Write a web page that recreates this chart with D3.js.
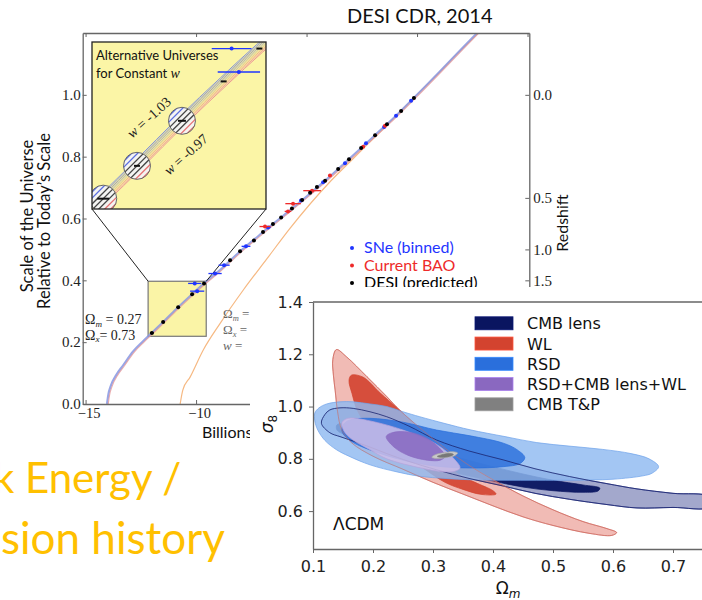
<!DOCTYPE html>
<html>
<head>
<meta charset="utf-8">
<script src="https://cdn.jsdelivr.net/npm/d3@7"></script>
<style>
  body { margin: 0; background: #fff; }
  svg { display: block; }
</style>
</head>
<body>
<svg width="702" height="600"></svg>
<script>
// ---------- back chart data: scale factor a vs time (Gyr from today) ----------
var ageTicks = [-15, -10, -5, 0, 5];
var scaleTicks = [0.0, 0.2, 0.4, 0.6, 0.8, 1.0];
var redshiftTicks = [0.0, 0.5, 1.0, 1.5];

// LCDM (Om = 0.27, Ox = 0.73)
var mainCurve = [
  [-14.03, 0], [-13.97, 0.03], [-13.85, 0.06], [-13.6, 0.095], [-13.3, 0.125],
  [-12.85, 0.17], [-12.4, 0.203], [-12.0, 0.23], [-11.49, 0.265], [-10.81, 0.313],
  [-10.18, 0.355], [-9.64, 0.39], [-9.0, 0.428], [-8.0, 0.494], [-7.0, 0.554],
  [-6.0, 0.612], [-5.0, 0.671], [-4.0, 0.732], [-3.0, 0.797], [-2.0, 0.863],
  [-1.0, 0.929], [0, 1.0], [1.0, 1.073], [2.0, 1.147], [2.72, 1.2]
];
// alternative universe (orange)
var altCurve = [
  [-10.72, 0], [-10.6, 0.045], [-10.27, 0.087], [-9.68, 0.174], [-8.91, 0.261],
  [-7.87, 0.368], [-6.79, 0.47], [-5.75, 0.568], [-4.0, 0.714],
  [-3.0, 0.786], [-2.0, 0.857], [-1.0, 0.928], [0, 1.0], [1.0, 1.072],
  [2.0, 1.146], [2.77, 1.2]
];
// [t, a, half-width of error in t]
var desiPoints = [
  [-12.0, 0.23, 0.09], [-11.49, 0.265, 0.045], [-10.81, 0.313, 0.06], [-10.18, 0.355, 0.045],
  [-9.64, 0.39, 0.045], [-8.46, 0.465, 0.04], [-8.01, 0.494, 0.04], [-7.38, 0.529, 0.04],
  [-6.97, 0.556, 0.04], [-6.52, 0.582, 0.04], [-6.15, 0.603, 0.04], [-5.66, 0.632, 0.04],
  [-5.2, 0.66, 0.04], [-4.84, 0.683, 0.04], [-4.53, 0.702, 0.04], [-4.16, 0.722, 0.04],
  [-3.57, 0.76, 0.04], [-3.08, 0.792, 0.04], [-2.53, 0.828, 0.04], [-1.9, 0.869, 0.04],
  [-1.36, 0.905, 0.04], [-0.72, 0.948, 0.04], [-0.14, 0.99, 0.04]
];
var snePoints = [
  [-10.06, 0.39, 0.3], [-9.95, 0.365, 0.32], [-9.14, 0.422, 0.3], [-8.73, 0.449, 0.25],
  [-7.74, 0.51, 0.2], [-6.74, 0.571, 0.12], [-5.25, 0.658, 0.08], [-4.25, 0.717, 0.06],
  [-3.26, 0.779, 0.05], [-2.31, 0.843, 0.05], [-1.49, 0.896, 0.04], [-0.95, 0.932, 0.04],
  [-0.27, 0.981, 0.04]
];
var baoPoints = [
  [-6.88, 0.574, 0.25], [-5.84, 0.623, 0.15], [-5.61, 0.648, 0.35], [-4.75, 0.69, 0.4],
  [-3.94, 0.739, 0.08], [-2.44, 0.832, 0.06], [-1.45, 0.9, 0.05]
];
var circledDesi = [0, 1, 2];
var zoomT = [-12.17, -9.54];
var zoomA = [0.219, 0.397];
var pointLegend = ["SNe (binned)", "Current BAO", "DESI (predicted)"];

// ---------- front chart data: sigma8 vs Omega_m contours ----------
var omTicks = [0.1, 0.2, 0.3, 0.4, 0.5, 0.6, 0.7];
var s8Ticks = [0.6, 0.8, 1.0, 1.2, 1.4];

var cmbLensOuter = [
  [0.114, 0.936], [0.12, 0.97], [0.128, 0.987], [0.145, 0.995], [0.167, 0.993], [0.195, 0.98],
  [0.223, 0.961], [0.26, 0.925], [0.306, 0.872], [0.36, 0.83], [0.417, 0.796], [0.47, 0.762],
  [0.528, 0.732], [0.59, 0.705], [0.64, 0.685], [0.7, 0.668], [0.76, 0.655],
  [0.76, 0.615], [0.7, 0.614], [0.64, 0.612], [0.59, 0.625], [0.528, 0.645], [0.47, 0.668],
  [0.417, 0.696], [0.36, 0.725], [0.306, 0.758], [0.26, 0.79], [0.223, 0.82], [0.195, 0.845],
  [0.167, 0.868], [0.145, 0.885], [0.128, 0.9]
];
var cmbLensInner = [
  [0.14, 0.93], [0.16, 0.935], [0.2, 0.915], [0.25, 0.875], [0.3, 0.835], [0.35, 0.8],
  [0.4, 0.77], [0.45, 0.742], [0.5, 0.718], [0.55, 0.7], [0.578, 0.688], [0.575, 0.677],
  [0.55, 0.672], [0.5, 0.678], [0.45, 0.692], [0.4, 0.715], [0.35, 0.74], [0.3, 0.77],
  [0.25, 0.805], [0.2, 0.845], [0.16, 0.885], [0.14, 0.91]
];
var wlOuter = [
  [0.139, 1.218], [0.156, 1.19], [0.19, 1.114], [0.223, 1.038], [0.245, 0.985], [0.28, 0.915],
  [0.32, 0.84], [0.36, 0.775], [0.4, 0.72], [0.45, 0.658], [0.5, 0.605], [0.55, 0.56],
  [0.59, 0.533], [0.606, 0.518], [0.598, 0.507], [0.56, 0.515], [0.5, 0.545], [0.45, 0.578],
  [0.4, 0.62], [0.35, 0.665], [0.3, 0.71], [0.25, 0.76], [0.2, 0.81], [0.165, 0.86],
  [0.148, 0.91], [0.141, 0.98], [0.137, 1.06], [0.134, 1.12], [0.133, 1.18]
];
var wlInner = [
  [0.164, 1.12], [0.183, 1.113], [0.212, 1.052], [0.24, 0.995], [0.28, 0.91], [0.31, 0.83],
  [0.34, 0.745], [0.37, 0.71], [0.4, 0.678], [0.405, 0.665], [0.38, 0.664], [0.35, 0.683],
  [0.32, 0.71], [0.28, 0.77], [0.24, 0.83], [0.2, 0.9], [0.175, 0.98], [0.165, 1.05], [0.16, 1.1]
];
var rsdOuter = [
  [0.103, 0.975], [0.11, 0.995], [0.123, 1.01], [0.145, 1.018], [0.167, 1.018], [0.195, 1.01],
  [0.223, 1.0], [0.25, 0.98], [0.278, 0.961], [0.32, 0.935], [0.362, 0.911], [0.42, 0.885],
  [0.473, 0.862], [0.53, 0.848], [0.583, 0.836], [0.63, 0.82], [0.66, 0.8], [0.676, 0.77],
  [0.665, 0.745], [0.65, 0.735], [0.6, 0.722], [0.53, 0.718], [0.473, 0.718], [0.42, 0.718],
  [0.362, 0.72], [0.32, 0.725], [0.278, 0.733], [0.24, 0.75], [0.195, 0.777], [0.16, 0.81],
  [0.139, 0.835], [0.12, 0.87], [0.108, 0.91], [0.103, 0.945]
];
var rsdInner = [
  [0.148, 0.911], [0.152, 0.935], [0.162, 0.949], [0.195, 0.955], [0.25, 0.94], [0.306, 0.91],
  [0.362, 0.888], [0.417, 0.86], [0.44, 0.835], [0.453, 0.805], [0.445, 0.782], [0.417, 0.77],
  [0.362, 0.765], [0.306, 0.772], [0.25, 0.795], [0.195, 0.834], [0.165, 0.865], [0.152, 0.89]
];
var combinedOuter = [
  [0.148, 0.936], [0.153, 0.95], [0.162, 0.956], [0.195, 0.945], [0.25, 0.91], [0.306, 0.855],
  [0.335, 0.8], [0.345, 0.765], [0.335, 0.752], [0.317, 0.751], [0.28, 0.765], [0.223, 0.8],
  [0.195, 0.835], [0.165, 0.875], [0.152, 0.905]
];
var combinedInner = [
  [0.222, 0.885], [0.232, 0.9], [0.26, 0.902], [0.29, 0.878], [0.31, 0.843], [0.32, 0.81],
  [0.312, 0.795], [0.29, 0.795], [0.26, 0.812], [0.235, 0.845]
];
var cmbTPOuter = [
  [0.298, 0.806], [0.304, 0.816], [0.318, 0.823], [0.334, 0.827], [0.341, 0.822],
  [0.336, 0.812], [0.322, 0.805], [0.306, 0.801]
];
var cmbTPInner = [
  [0.307, 0.809], [0.315, 0.816], [0.328, 0.82], [0.334, 0.817], [0.328, 0.81], [0.314, 0.806]
];
var contourLegend = ["CMB lens", "WL", "RSD", "RSD+CMB lens+WL", "CMB T&P"];

var svg = d3.select("svg");
var defs = svg.append("defs");
var SERIF = "'Liberation Serif', 'DejaVu Serif', serif";
var CAL = "Lato, 'Open Sans', sans-serif";
var DV = "'DejaVu Sans', sans-serif";

// ================= back chart =================
var x = d3.scaleLinear().domain([-15.13, 5.08]).range([82.7, 529.3]);
var y = d3.scaleLinear().domain([0, 1.2]).range([404, 33]);

var line = d3.line()
  .x(function (d) { return x(d[0]); })
  .y(function (d) { return y(d[1]); })
  .curve(d3.curveMonotoneX);

defs.append("clipPath").attr("id", "plotClip")
  .append("rect").attr("x", 82.7).attr("y", 33).attr("width", 446.6).attr("height", 371);

var back = svg.append("g");

// small zoom box on the curve
back.append("rect")
  .attr("x", x(zoomT[0])).attr("y", y(zoomA[1]))
  .attr("width", x(zoomT[1]) - x(zoomT[0])).attr("height", y(zoomA[0]) - y(zoomA[1]))
  .attr("fill", "#faf4a6").attr("stroke", "#777").attr("stroke-width", 1.2);

var curves = back.append("g").attr("clip-path", "url(#plotClip)");
curves.append("path").datum(altCurve).attr("d", line)
  .attr("fill", "none").attr("stroke", "#f6b983").attr("stroke-width", 1.2);
curves.append("path").datum(mainCurve).attr("d", line)
  .attr("fill", "none").attr("stroke", "#8796e2").attr("stroke-width", 2.2).attr("opacity", 0.85);
curves.append("path").datum(mainCurve).attr("d", line)
  .attr("transform", "translate(1.2,0.6)")
  .attr("fill", "none").attr("stroke", "#e69a9a").attr("stroke-width", 1.1).attr("opacity", 0.8);

// axes
function styleAxis(g, font, size) {
  g.attr("font-family", font).attr("font-size", size);
  g.select(".domain").attr("stroke", "#666").attr("stroke-width", 1.3);
  g.selectAll(".tick line").attr("stroke", "#666");
  g.selectAll(".tick text").attr("fill", "#222");
}
back.append("g").attr("transform", "translate(82.7,0)")
  .call(d3.axisLeft(y).tickValues(scaleTicks).tickSize(-4).tickSizeOuter(0).tickPadding(2)
    .tickFormat(d3.format(".1f")))
  .call(styleAxis, SERIF, 15);
// only the part of the bottom axis left of the front panel is visible
back.append("g").attr("transform", "translate(0,404)")
  .call(d3.axisBottom(x).tickValues(ageTicks.slice(0, 2)).tickSize(-4).tickSizeOuter(0).tickPadding(4)
    .tickFormat(d3.format("d")))
  .call(styleAxis, SERIF, 14.5)
  .call(function (g) { g.selectAll(".tick text").attr("dx", 3); });
back.append("g").attr("transform", "translate(0,33)")
  .call(d3.axisTop(x).tickValues(ageTicks).tickSize(-4).tickSizeOuter(0).tickFormat(""))
  .call(styleAxis, SERIF, 15);
back.append("g").attr("transform", "translate(529.3,0)")
  .call(d3.axisRight(y)
    .tickValues(redshiftTicks.map(function (z) { return 1 / (1 + z); }))
    .tickSize(-4).tickSizeOuter(0).tickPadding(4)
    .tickFormat(function (a) { return d3.format(".1f")(1 / a - 1); }))
  .call(styleAxis, SERIF, 15);

// connector lines to inset
var inset = { x0: 92, x1: 266, y0: 42, y1: 209 };
back.append("line").attr("x1", inset.x0).attr("y1", inset.y1)
  .attr("x2", x(zoomT[0])).attr("y2", y(zoomA[1])).attr("stroke", "#222").attr("stroke-width", 1);
back.append("line").attr("x1", inset.x1).attr("y1", inset.y1)
  .attr("x2", x(zoomT[1])).attr("y2", y(zoomA[1])).attr("stroke", "#222").attr("stroke-width", 1);

// data points with horizontal error bars
function drawPoints(g, pts, color, sx, sy, r, w) {
  g.selectAll(null).data(pts).enter().append("line")
    .attr("x1", function (d) { return sx(d[0] - d[2]); })
    .attr("x2", function (d) { return sx(d[0] + d[2]); })
    .attr("y1", function (d) { return sy(d[1]); })
    .attr("y2", function (d) { return sy(d[1]); })
    .attr("stroke", color).attr("stroke-width", w);
  if (r > 0) {
    g.selectAll(null).data(pts).enter().append("circle")
      .attr("cx", function (d) { return sx(d[0]); })
      .attr("cy", function (d) { return sy(d[1]); })
      .attr("r", r).attr("fill", color);
  }
}
var pts = back.append("g");
drawPoints(pts, snePoints, "#1f35ff", x, y, 2, 1.3);
drawPoints(pts, baoPoints, "#ee2a2a", x, y, 2, 1.3);
drawPoints(pts, desiPoints, "#000", x, y, 2, 1.3);

// ----- inset -----
var ix = d3.scaleLinear().domain(zoomT).range([inset.x0, inset.x1]);
var iy = d3.scaleLinear().domain(zoomA).range([inset.y1, inset.y0]);
var iline = d3.line()
  .x(function (d) { return ix(d[0]); })
  .y(function (d) { return iy(d[1]); })
  .curve(d3.curveMonotoneX);

defs.append("clipPath").attr("id", "insetClip")
  .append("rect").attr("x", inset.x0).attr("y", inset.y0)
  .attr("width", inset.x1 - inset.x0).attr("height", inset.y1 - inset.y0);

var ins = back.append("g");
ins.append("rect").attr("x", inset.x0).attr("y", inset.y0)
  .attr("width", inset.x1 - inset.x0).attr("height", inset.y1 - inset.y0)
  .attr("fill", "#fbf5a6");
var insC = ins.append("g").attr("clip-path", "url(#insetClip)");

var bandColors = ["#8594d8", "#9aa1c4", "#a8a8b0", "#b8b8b0", "#cac6a0", "#e6d18e", "#f1b68d", "#f0a49a", "#eb9595"];
bandColors.forEach(function (c, i) {
  var o = (i - 4) * 1.2;
  insC.append("path").datum(mainCurve).attr("d", iline)
    .attr("transform", "translate(" + (o * 0.68) + "," + (o * 0.73) + ")")
    .attr("fill", "none").attr("stroke", c).attr("stroke-width", 1);
});

// hatched circles around DESI points
circledDesi.forEach(function (k) {
  var d = desiPoints[k];
  var cx = ix(d[0]), cy = iy(d[1]), r = 13.5;
  var id = "hc" + k;
  defs.append("clipPath").attr("id", id).append("circle").attr("cx", cx).attr("cy", cy).attr("r", r);
  insC.append("circle").attr("cx", cx).attr("cy", cy).attr("r", r).attr("fill", "#f4f4f2");
  var hg = insC.append("g").attr("clip-path", "url(#" + id + ")");
  for (var j = -4; j <= 4; j++) {
    var off = j * 4.2;
    var px = cx + off * 0.707, py = cy + off * 0.707;
    hg.append("line")
      .attr("x1", px - 20 * 0.707).attr("y1", py + 20 * 0.707)
      .attr("x2", px + 20 * 0.707).attr("y2", py - 20 * 0.707)
      .attr("stroke", j < -1 ? "#5b6ee0" : (j > 1 ? "#e77272" : "#444"))
      .attr("stroke-width", 1.3);
  }
  insC.append("circle").attr("cx", cx).attr("cy", cy).attr("r", r)
    .attr("fill", "none").attr("stroke", "#666").attr("stroke-width", 1);
});
drawPoints(insC, desiPoints, "#111", ix, iy, 0, 2);
drawPoints(insC, snePoints, "#1f35ff", ix, iy, 2, 1.3);

ins.append("rect").attr("x", inset.x0).attr("y", inset.y0)
  .attr("width", inset.x1 - inset.x0).attr("height", inset.y1 - inset.y0)
  .attr("fill", "none").attr("stroke", "#222").attr("stroke-width", 1.3);

ins.append("text").attr("x", 96).attr("y", 60).attr("font-family", CAL).attr("font-size", 13)
  .attr("fill", "#111").text("Alternative Universes");
var t2 = ins.append("text").attr("x", 96).attr("y", 78).attr("font-family", CAL).attr("font-size", 13)
  .attr("fill", "#111").text("for Constant ");
t2.append("tspan").attr("font-family", SERIF).attr("font-style", "italic").attr("font-size", 14).text("w");

function wLabel(cx, cy, txt) {
  var t = ins.append("text").attr("transform", "translate(" + cx + "," + cy + ") rotate(-42)")
    .attr("text-anchor", "middle").attr("font-family", SERIF).attr("font-size", 14).attr("fill", "#222");
  t.append("tspan").attr("font-style", "italic").text("w");
  t.append("tspan").text(" = " + txt);
}
wLabel(152, 121, "-1.03");
wLabel(189, 158, "-0.97");

// omega labels
function omegaLines(x0, ys, rows, color, size) {
  rows.forEach(function (r, i) {
    var t = back.append("text").attr("x", x0).attr("y", ys[i]).attr("font-family", SERIF)
      .attr("font-size", size).attr("fill", color);
    if (r[0] === "w") {
      t.append("tspan").attr("font-style", "italic").text("w");
    } else {
      t.append("tspan").text("\u03A9");
      t.append("tspan").attr("font-style", "italic").attr("font-size", size * 0.65).attr("dy", 2.5).text(r[0]);
    }
    t.append("tspan").attr("dy", r[0] === "w" ? 0 : -2.5).text(r[1]);
  });
}
omegaLines(85, [324, 339.5], [["m", " = 0.27"], ["x", "= 0.73"]], "#222", 14);
omegaLines(223, [318, 334, 350], [["m", " ="], ["x", " ="], ["w", " ="]], "#666", 13);

// labels
back.append("text").attr("transform", "translate(33,216) rotate(-90)").attr("text-anchor", "middle")
  .attr("font-family", CAL).attr("font-size", 16.5).attr("fill", "#111").text("Scale of the Universe");
back.append("text").attr("transform", "translate(49.5,221) rotate(-90)").attr("text-anchor", "middle")
  .attr("font-family", CAL).attr("font-size", 16.5).attr("fill", "#111").text("Relative to Today\u2019s Scale");
back.append("text").attr("transform", "translate(568,223) rotate(-90)").attr("text-anchor", "middle")
  .attr("font-family", CAL).attr("font-size", 16).attr("fill", "#111").text("Redshift");
back.append("text").attr("x", 202).attr("y", 438).attr("font-family", CAL).attr("font-size", 16)
  .attr("fill", "#111").text("Billions of Years");
back.append("text").attr("x", 347).attr("y", 23).attr("font-family", CAL).attr("font-size", 20)
  .attr("fill", "#111").text("DESI CDR, 2014");

var legColors = ["#1f35ff", "#ee2a2a", "#000"];
pointLegend.forEach(function (lab, i) {
  var by = 253 + i * 17.5;
  back.append("circle").attr("cx", 352).attr("cy", by - 5).attr("r", 2).attr("fill", legColors[i]);
  back.append("text").attr("x", 364).attr("y", by).attr("font-family", CAL).attr("font-size", 16)
    .attr("fill", legColors[i]).text(lab);
});

// big orange caption, running off the left edge as in the slide:
// place each line so that its visible tail starts where the reference shows it
function caption(full, tail, tailX, baseY, size) {
  var t = svg.append("text").attr("y", baseY)
    .attr("font-family", CAL).attr("font-size", size).attr("fill", "#ffc000").text(tail);
  var tailLen = t.node().getComputedTextLength();
  t.text(full);
  var fullLen = t.node().getComputedTextLength();
  t.attr("x", tailX - (fullLen - tailLen));
}
caption("Dark Energy /", "Energy /", 25, 493, 42);
caption("Expansion history", "sion history", 1, 554, 44);

// ================= front chart =================
var front = svg.append("g");
front.append("rect").attr("x", 250).attr("y", 287).attr("width", 452).attr("height", 313).attr("fill", "#fff");

var fx = d3.scaleLinear().domain([0.1, 0.75]).range([313, 703]);
var fy = d3.scaleLinear().domain([0.455, 1.4]).range([549, 302]);
var cline = d3.line()
  .x(function (d) { return fx(d[0]); })
  .y(function (d) { return fy(d[1]); })
  .curve(d3.curveCatmullRomClosed.alpha(0.5));

defs.append("clipPath").attr("id", "frontClip")
  .append("rect").attr("x", 313).attr("y", 302).attr("width", 390).attr("height", 247);
var cg = front.append("g").attr("clip-path", "url(#frontClip)");

function fillShape(pts, fill, op, stroke) {
  cg.append("path").datum(pts).attr("d", cline)
    .attr("fill", fill).attr("fill-opacity", op)
    .attr("stroke", stroke).attr("stroke-opacity", 0.8).attr("stroke-width", 0.9);
}
function outline(pts, stroke, op, w) {
  cg.append("path").datum(pts).attr("d", cline)
    .attr("fill", "none").attr("stroke", stroke).attr("stroke-opacity", op).attr("stroke-width", w);
}
fillShape(cmbLensOuter, "#2e3a8a", 0.44, "#27348a");
fillShape(cmbLensInner, "#0a1560", 0.95, "#0a1560");
fillShape(wlOuter, "#e0695b", 0.45, "#d9695e");
fillShape(wlInner, "#d3432f", 0.9, "#d3432f");
fillShape(rsdOuter, "#8fbaf0", 0.82, "#6fa3ea");
fillShape(rsdInner, "#2f72dc", 0.85, "#2a6fdc");
outline(cmbLensOuter, "#1c2570", 0.8, 1);
outline(wlOuter, "#c86a60", 0.6, 0.9);
fillShape(combinedOuter, "#cdbde8", 0.85, "#b7a3dc");
fillShape(combinedInner, "#8a6bc2", 0.9, "#8a6bc2");
fillShape(cmbTPOuter, "#c9c9c9", 1, "#aaa");
fillShape(cmbTPInner, "#777", 1, "#777");

front.append("g").attr("transform", "translate(313,0)")
  .call(d3.axisLeft(fy).tickValues(s8Ticks).tickSize(4).tickSizeOuter(0).tickPadding(6)
    .tickFormat(d3.format(".1f")))
  .call(styleAxis, DV, 16);
front.append("g").attr("transform", "translate(0,549)")
  .call(d3.axisBottom(fx).tickValues(omTicks).tickSize(4).tickSizeOuter(0).tickPadding(8)
    .tickFormat(d3.format(".1f")))
  .call(styleAxis, DV, 16);
front.append("line").attr("x1", 313).attr("x2", 702).attr("y1", 302).attr("y2", 302)
  .attr("stroke", "#666").attr("stroke-width", 1.3);

// legend
var patchColors = ["#0a1560", "#d3432f", "#2a6fdc", "#8a68c0", "#808080"];
contourLegend.forEach(function (lab, i) {
  var cy = 323.3 + i * 20.25;
  front.append("rect").attr("x", 475).attr("y", cy - 6.5).attr("width", 38).attr("height", 13)
    .attr("fill", patchColors[i]).attr("stroke", d3.color(patchColors[i]).brighter(0.6)).attr("stroke-width", 0.8);
  front.append("text").attr("x", 527).attr("y", cy + 6).attr("font-family", DV).attr("font-size", 16)
    .attr("fill", "#111").text(lab);
});

front.append("text").attr("x", 333).attr("y", 530).attr("font-family", DV).attr("font-size", 17)
  .attr("fill", "#111").text("\u039BCDM");

var sl = front.append("text").attr("transform", "translate(273,424) rotate(-90)").attr("text-anchor", "middle")
  .attr("font-family", DV).attr("font-size", 17).attr("fill", "#111");
sl.append("tspan").attr("font-style", "italic").text("\u03C3");
sl.append("tspan").attr("font-size", 12).attr("dy", 4).text("8");

var ol = front.append("text").attr("x", 508).attr("y", 594).attr("text-anchor", "middle")
  .attr("font-family", DV).attr("font-size", 17).attr("fill", "#111");
ol.append("tspan").text("\u03A9");
ol.append("tspan").attr("font-size", 12).attr("font-style", "italic").attr("dy", 4).text("m");
</script>
</body>
</html>
